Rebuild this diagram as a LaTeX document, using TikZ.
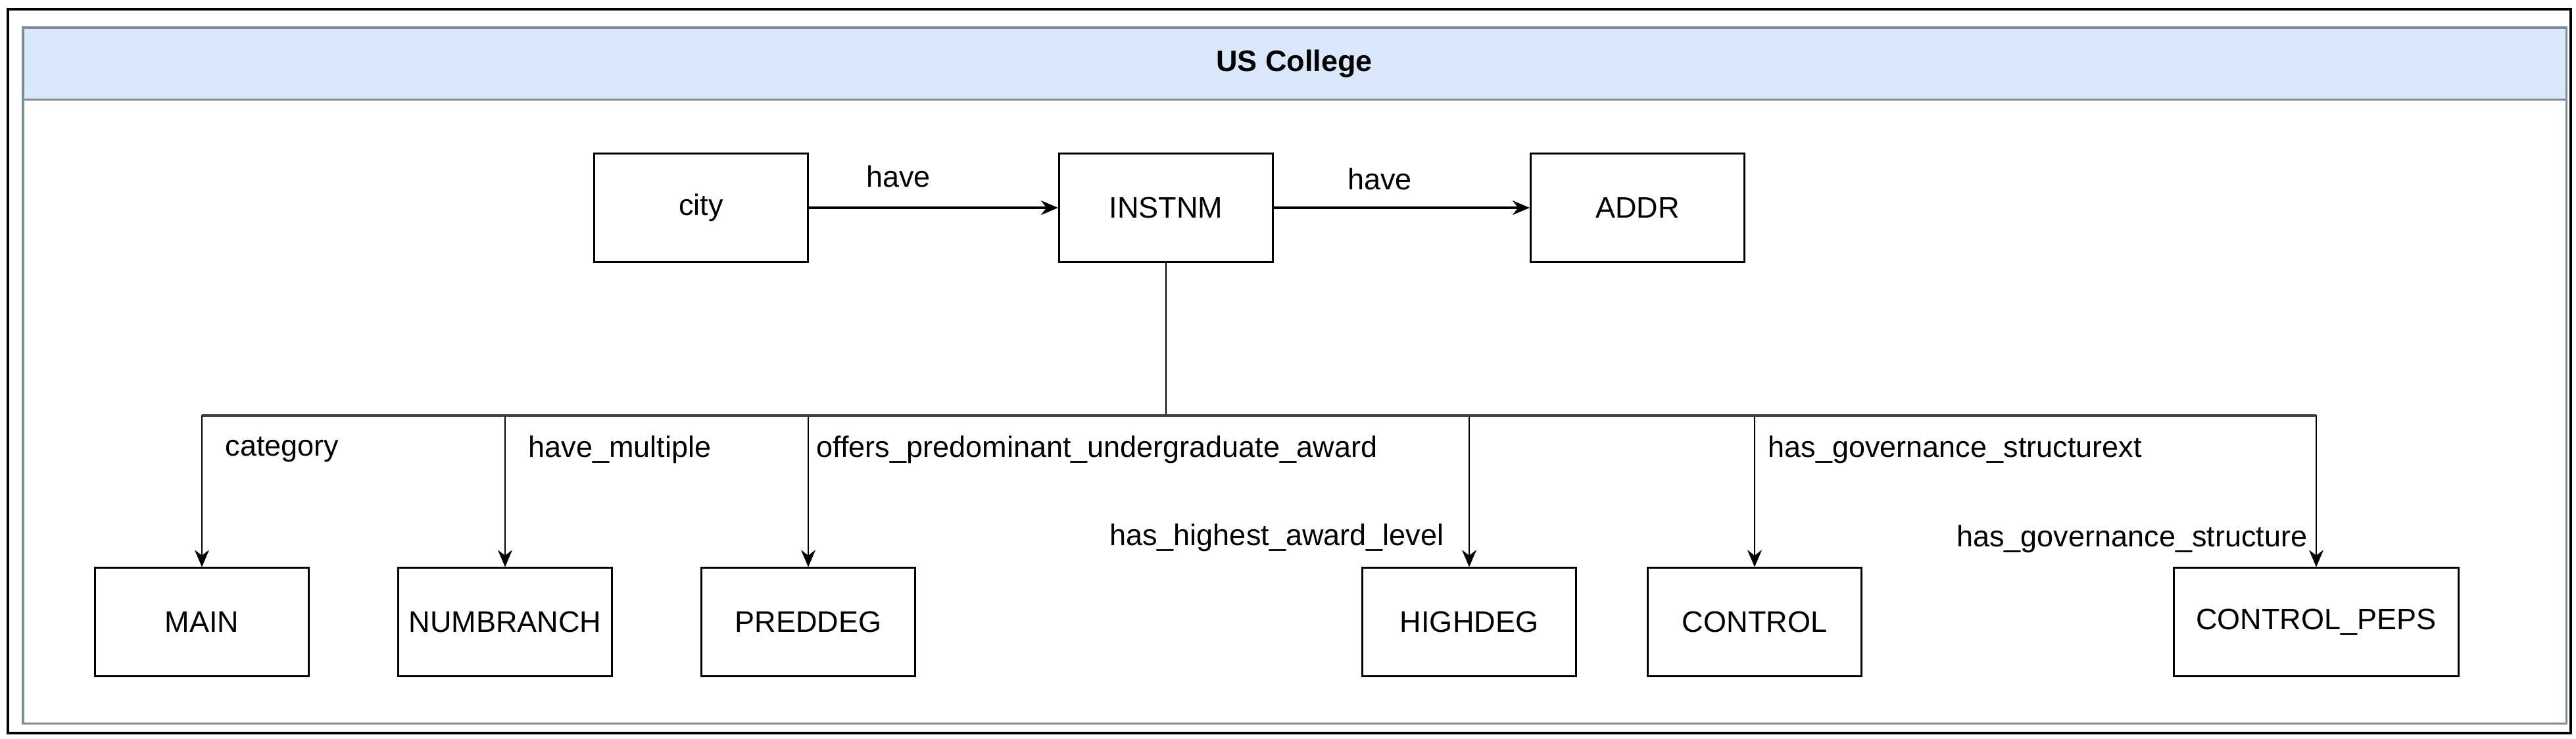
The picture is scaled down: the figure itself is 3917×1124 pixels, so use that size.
\documentclass[tikz,border=0pt]{standalone}
\usepackage{fontspec}
\setmainfont{Liberation Sans}
\usetikzlibrary{arrows.meta}
\definecolor{hdrfill}{HTML}{DAE8FC}
\definecolor{lanegray}{HTML}{7F8C98}
\begin{document}
\begin{tikzpicture}[x=0.01cm,y=-0.01cm,
  every node/.style={font=\fontsize{12.8}{15}\selectfont},
  entity/.style={draw=black,line width=0.03cm,fill=white,minimum width=3.25cm,minimum height=1.64cm,inner sep=0pt},
  lbl/.style={inner sep=0pt},
  flow/.style={line width=0.035cm,-{Stealth[length=0.26cm,width=0.22cm]}},
  tree/.style={line width=0.02cm,-{Stealth[length=0.26cm,width=0.22cm]}},
  busline/.style={line width=0.02cm}]
\useasboundingbox (0,0) rectangle (3917,1124);
\fill[white] (0,0) rectangle (3917,1124);
% outer frame
\draw[line width=0.045cm,black] (12,14) rectangle (3909,1115);
% container with header
\fill[hdrfill] (35,42) rectangle (3902,151);
\draw[lanegray,line width=0.03cm] (35,42) rectangle (3902,1100);
\draw[lanegray,line width=0.03cm] (35,151) -- (3902,151);
\node[font=\fontsize{12.8}{15}\selectfont\bfseries] (title) at (1968,97) {US College};
% top row
\node[entity] (city) at (1066,316) {city};
\node[entity] (inst) at (1773,316) {INSTNM};
\node[entity] (addr) at (2490,316) {ADDR};
% bottom row
\node[entity] (main) at (307,946) {MAIN};
\node[entity] (numb) at (768,946) {NUMBRANCH};
\node[entity] (pred) at (1229,946) {PREDDEG};
\node[entity] (high) at (2234,946) {HIGHDEG};
\node[entity] (ctrl) at (2668,946) {CONTROL};
\node[entity,minimum width=4.33cm] (peps) at (3522,946) {CONTROL\_PEPS};
% top arrows
\draw[flow] (city.east) -- (inst.west);
\draw[flow] (inst.east) -- (addr.west);
\node[lbl] (l1) at (1366,268) {have};
\node[lbl] (l2) at (2098,272) {have};
% bus
\coordinate (bus) at (1773,632);
\draw[busline] (inst.south) -- (bus);
\draw[tree] (bus) -| (main.north);
\draw[tree] (bus) -| (numb.north);
\draw[tree] (bus) -| (pred.north);
\draw[tree] (bus) -| (high.north);
\draw[tree] (bus) -| (ctrl.north);
\draw[tree] (bus) -| (peps.north);
\draw[black!75,line width=0.035cm] (main.north |- bus) -- (peps.north |- bus);
% edge labels
\node[lbl,anchor=west] (lc) at (342,684) {category};
\node[lbl,anchor=west] (lm) at (803,684) {have\_multiple};
\node[lbl,anchor=west] (lo) at (1241,684) {offers\_predominant\_undergraduate\_award};
\node[lbl,anchor=east] (lh) at (2196,818) {has\_highest\_award\_level};
\node[lbl,anchor=west] (lg) at (2688,684) {has\_governance\_structurext};
\node[lbl,anchor=east] (lp) at (3509,820) {has\_governance\_structure};
\end{tikzpicture}
\end{document}
